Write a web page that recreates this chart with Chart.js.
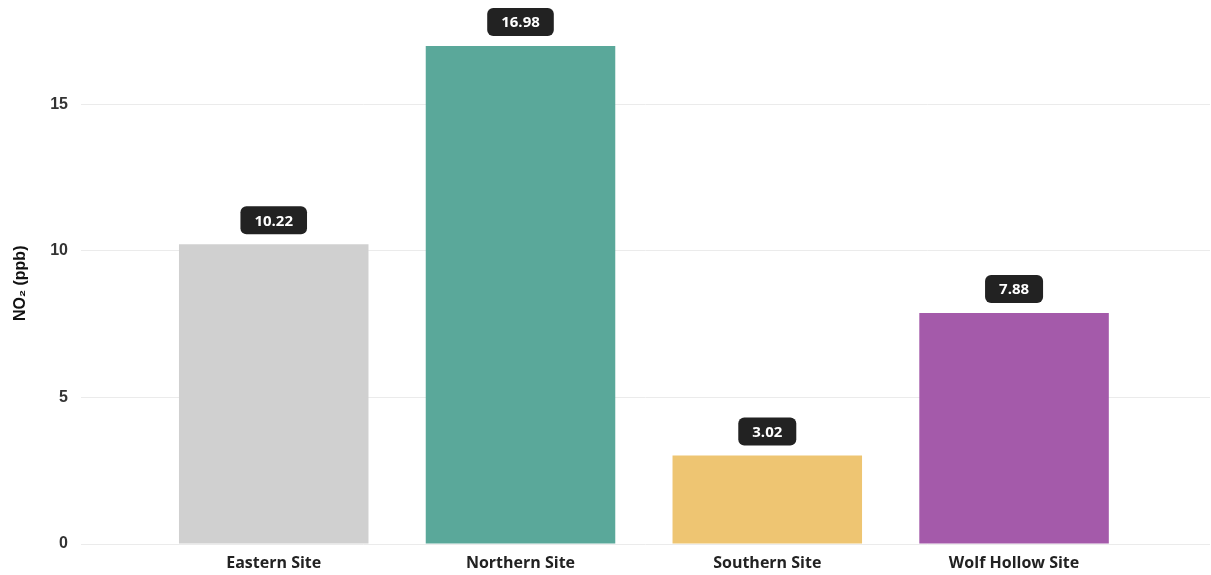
<!DOCTYPE html>
<html>
<head>
<meta charset="utf-8">
<script src="https://cdn.jsdelivr.net/npm/chart.js@4"></script>
<style>
  html, body { margin: 0; padding: 0; background: #ffffff; }
  #wrap { width: 1211px; height: 575px; }
</style>
</head>
<body>
<div id="wrap"><canvas id="c" width="1211" height="575"></canvas></div>
<script>
const categories = ["Eastern Site", "Northern Site", "Southern Site", "Wolf Hollow Site"];
const no2Values = [10.22, 16.98, 3.02, 7.88];
const barColors = ["#d0d0d0", "#5aa89a", "#eec572", "#a45aaa"];
const yTickValues = [0, 5, 10, 15];
const yAxisTitle = "NO\u2082 (ppb)";

const points = categories.map((c, i) => ({ x: i, y: no2Values[i] }));

const valueLabelPlugin = {
  id: 'valueLabels',
  afterDatasetsDraw(chart) {
    const ctx = chart.ctx;
    const meta = chart.getDatasetMeta(0);
    ctx.save();
    ctx.font = 'bold 15px "Open Sans", sans-serif';
    ctx.textAlign = 'center';
    ctx.textBaseline = 'middle';
    meta.data.forEach((bar, i) => {
      const txt = no2Values[i].toFixed(2);
      const tw = ctx.measureText(txt).width;
      const w = tw + 28, h = 28;
      const x = bar.x - w / 2;
      const y = bar.y - 10 - h;
      ctx.fillStyle = '#222222';
      ctx.beginPath();
      ctx.roundRect(x, y, w, h, 6);
      ctx.fill();
      ctx.fillStyle = '#ffffff';
      ctx.fillText(txt, bar.x, y + h / 2 + 1);
    });
    ctx.restore();
  }
};

new Chart(document.getElementById('c'), {
  type: 'bar',
  data: {
    datasets: [{
      data: points,
      backgroundColor: barColors,
      borderWidth: 0,
      barPercentage: 0.96,
      categoryPercentage: 0.8
    }]
  },
  options: {
    responsive: false,
    devicePixelRatio: 1,
    animation: false,
    layout: { padding: { top: 0, right: 1, left: 11, bottom: 0 } },
    plugins: { legend: { display: false }, tooltip: { enabled: false } },
    scales: {
      x: {
        type: 'linear',
        offset: false,
        bounds: 'ticks',
        min: -0.781,
        max: 3.794,
        grid: { display: false, drawTicks: false },
        border: { display: false },
        afterBuildTicks(scale) { scale.ticks = categories.map((c, i) => ({ value: i })); },
        afterFit(scale) { scale.height = 31; },
        ticks: {
          autoSkip: false,
          maxRotation: 0,
          padding: 10,
          color: '#222222',
          font: { family: '"Open Sans", sans-serif', size: 16, weight: 'bold' },
          callback: (v) => categories[v]
        }
      },
      y: {
        min: 0,
        max: 17.78,
        afterBuildTicks(scale) { scale.ticks = yTickValues.map(v => ({ value: v })); },
        grid: { color: '#ebebeb', drawTicks: false },
        border: { display: false },
        ticks: {
          padding: 13,
          color: '#333333',
          font: { family: '"Liberation Sans", Arial, sans-serif', size: 16, weight: 'bold' }
        },
        title: {
          display: true,
          text: yAxisTitle,
          color: '#111111',
          padding: { top: 0, bottom: 7 },
          font: { family: '"Liberation Sans", Arial, sans-serif', size: 16, weight: 'bold' }
        }
      }
    }
  },
  plugins: [valueLabelPlugin]
});
</script>
</body>
</html>
